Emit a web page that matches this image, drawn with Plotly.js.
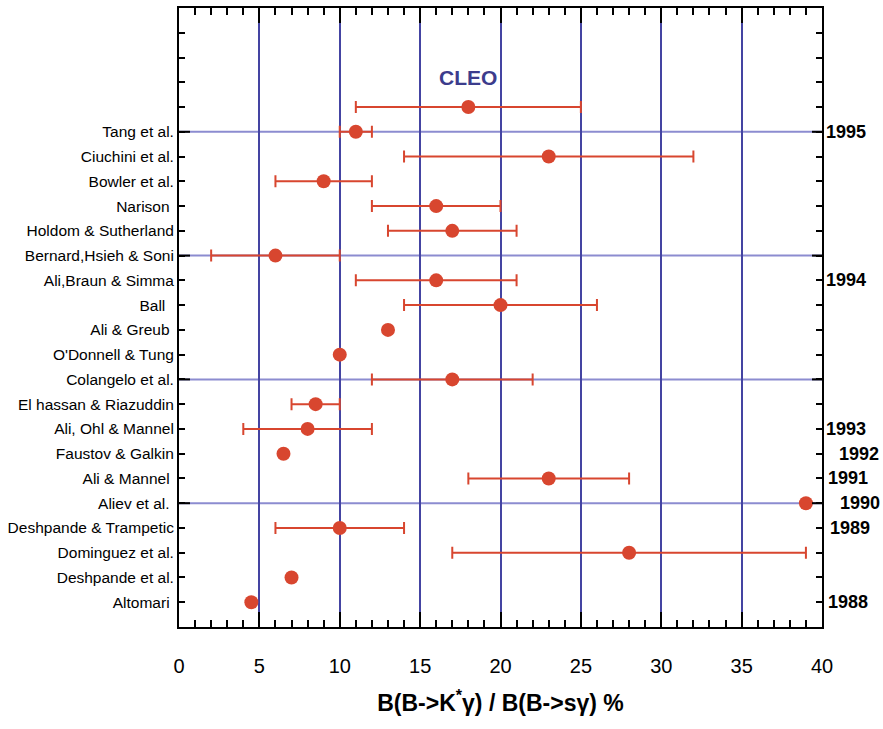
<!DOCTYPE html>
<html><head><meta charset="utf-8">
<script src="https://cdn.plot.ly/plotly-3.0.1.min.js"></script>
<style>html,body{margin:0;padding:0;background:#fff}</style>
</head><body><div id="chart" style="width:883px;height:729px"></div>
<script>
// ---- data (top to bottom) ----
const studies = ['CLEO','Tang et al.','Ciuchini et al.','Bowler et al.','Narison\u00a0','Holdom & Sutherland',
  'Bernard,Hsieh & Soni','Ali,Braun & Simma','Ball\u00a0\u00a0','Ali & Greub\u00a0',"O'Donnell & Tung",
  'Colangelo et al.','El hassan & Riazuddin','Ali, Ohl & Mannel','Faustov & Galkin','Ali & Mannel\u00a0',
  'Aliev et al.\u00a0','Deshpande & Trampetic','Dominguez et al.','Deshpande et al.','Altomari\u00a0'];
const ratio = [18, 11, 23, 9, 16, 17, 6, 16, 20, 13, 10, 17, 8.5, 8, 6.5, 23, 39, 10, 28, 7, 4.5];
const low   = [11, 10, 14, 6, 12, 13, 2, 11, 14, null, null, 12, 7, 4, null, 18, null, 6, 17, null, null];
const high  = [25, 12, 32, 12, 20, 21, 10, 21, 26, null, null, 22, 10, 12, null, 28, null, 14, 39, null, null];
const years = ['1995','1994','1993','1992','1991','1990','1989','1988'];
const yearStudy = ['Tang et al.','Ali,Braun & Simma','Ali, Ohl & Mannel','Faustov & Galkin','Ali & Mannel\u00a0','Aliev et al.\u00a0','Deshpande & Trampetic','Altomari\u00a0'];
const dividerStudy = ['Tang et al.','Bernard,Hsieh & Soni','Colangelo et al.','Aliev et al.\u00a0'];
const xTicks = ['0','5','10','15','20','25','30','35','40'];

// ---- derived ----
const N = studies.length;
const row = studies.map((s,i) => N - 1 - i);          // CLEO -> 20, Altomari -> 0
const rowOf = name => row[studies.indexOf(name)];
const errPlus  = ratio.map((v,i) => high[i] == null ? NaN : high[i] - v);
const errMinus = ratio.map((v,i) => low[i]  == null ? NaN : v - low[i]);

const FONT = '"Liberation Sans", Arial, Helvetica, sans-serif';
const RED = '#d8462f';

const tickvals = [], ticktext = [];
for (let r = 0; r <= 23; r++) {
  tickvals.push(r);
  ticktext.push(r < N - 1 ? studies[N - 1 - r] : '\u00a0');
}

const trace = {
  type: 'scatter', mode: 'markers',
  x: ratio, y: row,
  marker: {color: RED, size: 14, line: {width: 0}},
  error_x: {type: 'data', symmetric: false, array: errPlus, arrayminus: errMinus,
            color: RED, thickness: 2, width: 6},
  hoverinfo: 'x+text', text: studies, cliponaxis: false
};

const plotW = 883 - 179 - 61;
const shapes = [];
dividerStudy.forEach(n => {
  const y = rowOf(n);
  shapes.push({type:'line', xref:'paper', yref:'y', x0:0, x1:1, y0:y, y1:y,
               line:{color:'#8c8cd0', width:2}, layer:'below'});
  shapes.push({type:'line', xref:'paper', yref:'y', x0:0, x1:11/plotW, y0:y, y1:y,
               line:{color:'#000', width:2}, layer:'above'});
  shapes.push({type:'line', xref:'paper', yref:'y', x0:1-10/plotW, x1:1, y0:y, y1:y,
               line:{color:'#000', width:2}, layer:'above'});
});

const yearShift = [2, 2, 2, 15, 4, 16, 6, 4];
const annotations = years.map((t,i) => ({
  text: t, xref:'paper', x:1, xanchor:'left', xshift: yearShift[i],
  yref:'y', y: rowOf(yearStudy[i]), yanchor:'middle', showarrow:false,
  font:{family:FONT, size:18, color:'#000', weight:'bold'}
}));
annotations.push({
  text: studies[0], xref:'x', x: ratio[0], yref:'y', y: 21.2, showarrow:false,
  font:{family:FONT, size:21, color:'#3c3c8c', weight:'bold'}
});

const layout = {
  width: 883, height: 729,
  margin: {l:179, r:61, t:8, b:102},
  paper_bgcolor:'#fff', plot_bgcolor:'#fff',
  showlegend:false, hovermode:false, dragmode:false,
  font:{family:FONT, color:'#000'},
  xaxis: {
    range:[0,40], tickmode:'array', tickvals: xTicks.map(Number), fixedrange:true,
    ticks:'inside', ticklen:15, tickwidth:2, tickcolor:'#000',
    showline:true, linewidth:2, linecolor:'#000', mirror:'ticks',
    showgrid:true, gridcolor:'#4444a2', gridwidth:1.5, zeroline:false,
    minor:{dtick:1, tick0:0, ticks:'inside', ticklen:7, tickwidth:1.5, tickcolor:'#000', showgrid:false},
    showticklabels:false
  },
  xaxis2: {
    overlaying:'x', anchor:'y', side:'bottom', range:[0,40], fixedrange:true,
    tickmode:'array', tickvals: xTicks.map(Number), ticktext: xTicks,
    ticks:'outside', ticklen:21, tickcolor:'rgba(0,0,0,0)',
    showline:false, showgrid:false, zeroline:false,
    tickfont:{family:FONT, size:20, color:'#000'},
    title:{text:'B(B->K<sup>*</sup>γ) / B(B->sγ) %', font:{family:FONT, size:23, color:'#000', weight:'bold'}, standoff: 18}
  },
  yaxis: {
    range:[-1,24], tickmode:'array', tickvals, ticktext, fixedrange:true,
    ticks:'inside', ticklen:6, tickwidth:2, tickcolor:'#000',
    showline:true, linewidth:2, linecolor:'#000', mirror:'ticks',
    showgrid:false, zeroline:false,
    tickfont:{family:FONT, size:15.5, color:'#000'}
  },
  shapes, annotations
};

const axisAnchor = {type:'scatter', mode:'markers', x:[], y:[], xaxis:'x2', yaxis:'y', hoverinfo:'skip', showlegend:false};
Plotly.newPlot('chart', [trace, axisAnchor], layout, {displayModeBar:false});
</script></body></html>
